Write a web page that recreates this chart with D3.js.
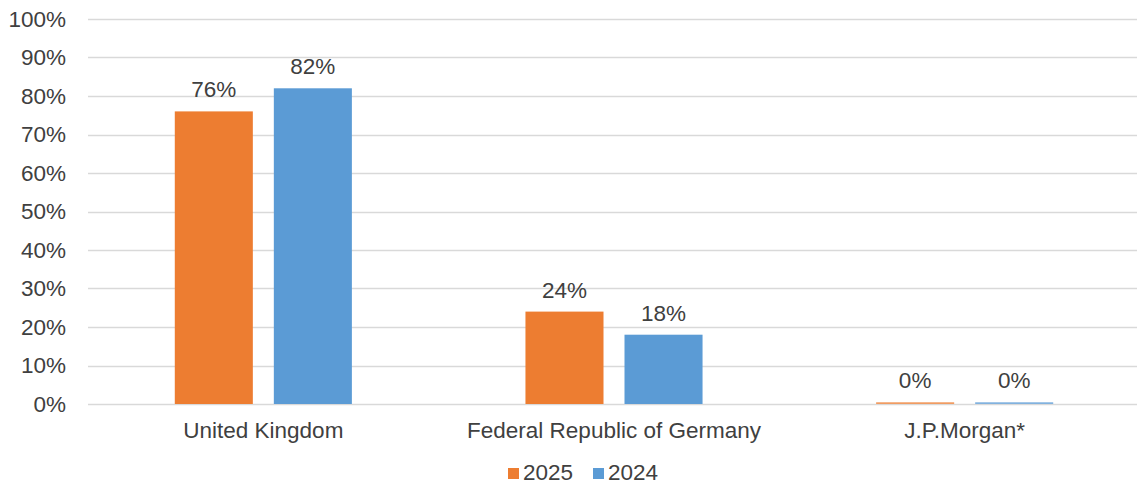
<!DOCTYPE html>
<html>
<head>
<meta charset="utf-8">
<script src="https://cdn.jsdelivr.net/npm/d3@7"></script>
<style>
  html, body { margin: 0; padding: 0; background: #fff; }
  svg { display: block; font-family: "Liberation Sans", Arial, sans-serif; }
</style>
</head>
<body>
<svg id="chart" width="1137" height="487"></svg>
<script>
// Share by country / entity
const categories = ["United Kingdom", "Federal Republic of Germany", "J.P.Morgan*"];
const seriesNames = ["2025", "2024"];
const values2025 = [76, 24, 0.45];
const values2024 = [82, 18, 0.45];
const seriesColors = ["#ED7D31", "#5B9BD5"];
const yTicks = [0, 10, 20, 30, 40, 50, 60, 70, 80, 90, 100];

const svg = d3.select("#chart");
const W = 1137, H = 487;
const x0 = 88, x1 = 1140;
const yTop = 19, yBot = 404;
const textColor = "#404040";
const fontSize = 22.5;

const x = d3.scaleBand().domain(categories).range([x0, x1]);
const bw = x.bandwidth();
// two bars centred in each category band
const groupW = bw * 0.505;
const xs = d3.scaleBand().domain(seriesNames)
  .range([(bw - groupW) / 2, (bw + groupW) / 2])
  .paddingInner(0.212).paddingOuter(0);
const y = d3.scaleLinear().domain([0, 100]).range([yBot, yTop]);

// gridlines
svg.append("g").selectAll("line").data(yTicks).join("line")
  .attr("x1", x0).attr("x2", W)
  .attr("y1", d => Math.round(y(d)) + 0.5).attr("y2", d => Math.round(y(d)) + 0.5)
  .attr("stroke", "#d9d9d9").attr("stroke-width", 1.5);

// y axis labels
const yAxis = d3.axisLeft(y).tickValues(yTicks).tickFormat(d => d + "%").tickSize(0).tickPadding(0);
const ya = svg.append("g").attr("transform", "translate(66,0)").call(yAxis);
ya.select(".domain").remove();
ya.selectAll("text").attr("font-size", fontSize).attr("fill", textColor)
  .attr("font-family", "Liberation Sans, Arial, sans-serif");

// x axis labels
const xAxis = d3.axisBottom(x).tickSize(0).tickPadding(0);
const xa = svg.append("g").attr("transform", `translate(0,${yBot + 18})`).call(xAxis);
xa.select(".domain").remove();
xa.selectAll("text").attr("font-size", fontSize).attr("fill", textColor)
  .attr("font-family", "Liberation Sans, Arial, sans-serif");

// bars
const rows = categories.map((c, i) => ({ cat: c, vals: [values2025[i], values2024[i]] }));
const groups = svg.append("g").selectAll("g").data(rows).join("g")
  .attr("transform", d => `translate(${x(d.cat)},0)`);

groups.selectAll("rect").data(d => d.vals.map((v, j) => ({ v, s: seriesNames[j], c: seriesColors[j] })))
  .join("rect")
  .attr("x", d => xs(d.s))
  .attr("width", xs.bandwidth())
  .attr("y", d => y(d.v))
  .attr("height", d => yBot - y(d.v))
  .attr("fill", d => d.c)
  .attr("fill-opacity", d => d.v < 1 ? 0.75 : 1);

groups.selectAll("text.val").data(d => d.vals.map((v, j) => ({ v, s: seriesNames[j] })))
  .join("text").attr("class", "val")
  .attr("x", d => xs(d.s) + xs.bandwidth() / 2)
  .attr("y", d => y(d.v) - 14)
  .attr("text-anchor", "middle")
  .attr("font-size", fontSize).attr("fill", textColor)
  .text(d => Math.round(d.v) + "%");

// legend
const legend = svg.append("g").attr("transform", "translate(508,480)");
const items = [{ s: "2025", c: seriesColors[0], dx: 0 }, { s: "2024", c: seriesColors[1], dx: 85 }];
items.forEach(it => {
  const g = legend.append("g").attr("transform", `translate(${it.dx},0)`);
  g.append("rect").attr("x", 0).attr("y", -12).attr("width", 11).attr("height", 11).attr("fill", it.c);
  g.append("text").attr("x", 15).attr("y", 0).attr("font-size", fontSize).attr("fill", textColor).text(it.s);
});
</script>
</body>
</html>
